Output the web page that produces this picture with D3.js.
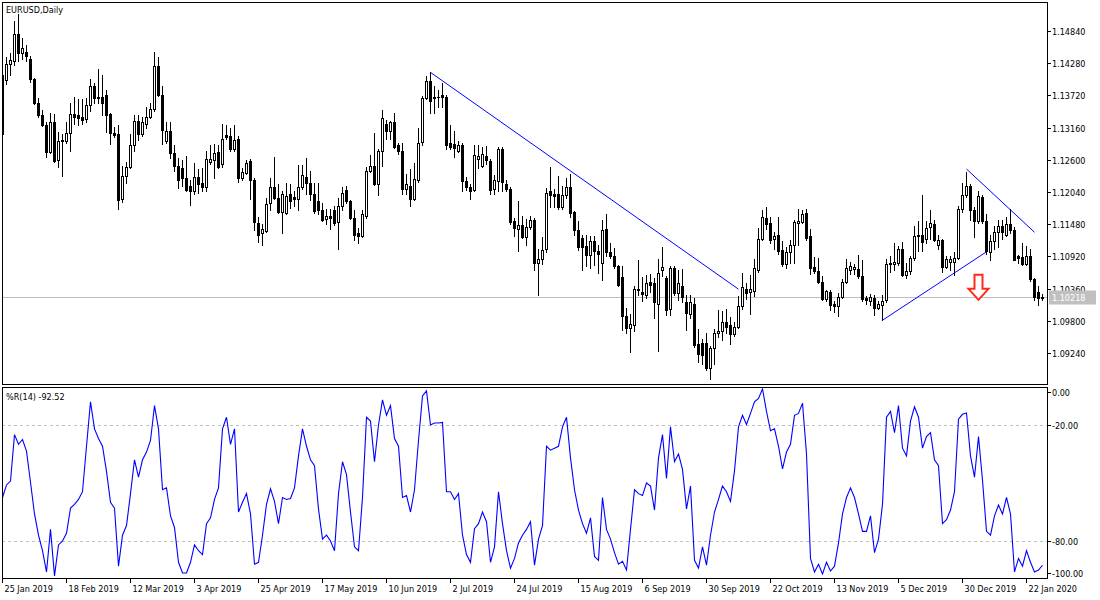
<!DOCTYPE html>
<html><head><meta charset="utf-8">
<script src="https://cdn.jsdelivr.net/npm/d3@7"></script>
<style>
html,body{margin:0;padding:0;background:#fff;}
svg{display:block;}
text{font-family:"DejaVu Sans Condensed","Liberation Sans",sans-serif;font-size:9px;fill:#000;}
</style></head><body>
<svg id="c" width="1100" height="600"></svg>
<script>
const opens=[1.1305,1.1399,1.1426,1.1431,1.1478,1.1445,1.1448,1.1435,1.1401,1.1359,1.1338,1.1320,1.1274,1.1325,1.1260,1.1295,1.1292,1.1307,1.1340,1.1338,1.1335,1.1331,1.1355,1.1388,1.1368,1.1370,1.1373,1.1340,1.1307,1.1305,1.1192,1.1232,1.1247,1.1286,1.1328,1.1305,1.1322,1.1335,1.1348,1.1423,1.1373,1.1292,1.1310,1.1272,1.1250,1.1245,1.1228,1.1215,1.1206,1.1230,1.1220,1.1212,1.1257,1.1260,1.1273,1.1252,1.1304,1.1302,1.1279,1.1297,1.1228,1.1237,1.1258,1.1225,1.1150,1.1132,1.1137,1.1185,1.1213,1.1193,1.1170,1.1168,1.1200,1.1195,1.1192,1.1212,1.1230,1.1220,1.1201,1.1188,1.1172,1.1157,1.1162,1.1172,1.1151,1.1180,1.1207,1.1189,1.1158,1.1132,1.1128,1.1163,1.1240,1.1250,1.1218,1.1275,1.1322,1.1310,1.1325,1.1285,1.1275,1.1210,1.1215,1.1192,1.1225,1.1291,1.1367,1.1397,1.1370,1.1370,1.1372,1.1370,1.1290,1.1287,1.1276,1.1286,1.1224,1.1213,1.1207,1.1262,1.1250,1.1266,1.1258,1.1209,1.1223,1.1278,1.1218,1.1210,1.1154,1.1140,1.1146,1.1126,1.1144,1.1155,1.1080,1.1087,1.1105,1.1205,1.1200,1.1200,1.1178,1.1198,1.1213,1.1170,1.1138,1.1124,1.1110,1.1095,1.1118,1.1102,1.1080,1.1140,1.1100,1.1092,1.1076,1.1056,1.0988,1.0968,1.0972,1.1033,1.1030,1.1025,1.1048,1.1045,1.1010,1.1068,1.1055,1.1000,1.1071,1.1028,1.1040,1.1012,1.0991,1.1010,1.0940,1.0942,1.0942,1.0898,1.0932,1.0958,1.0963,1.0978,1.0972,1.0957,1.0970,1.1005,1.1035,1.1030,1.1032,1.1069,1.1123,1.1158,1.1150,1.1122,1.1130,1.1104,1.1078,1.1100,1.1112,1.1150,1.1152,1.1168,1.1128,1.1073,1.1066,1.1048,1.1018,1.1030,1.1010,1.1006,1.1022,1.1048,1.1068,1.1070,1.1070,1.1058,1.1020,1.1014,1.1020,1.1002,1.1008,1.1016,1.1078,1.1079,1.1080,1.1105,1.1060,1.1066,1.1090,1.1128,1.1130,1.1122,1.1143,1.1148,1.1112,1.1120,1.1073,1.1083,1.1082,1.1090,1.1175,1.1198,1.1215,1.1173,1.1153,1.1195,1.1153,1.1100,1.1118,1.1135,1.1145,1.1130,1.1148,1.1138,1.1093,1.1091,1.1079,1.1093,1.1053,1.1030,1.1020];
const highs=[1.1418,1.1439,1.1445,1.1501,1.1513,1.1471,1.1460,1.1441,1.1403,1.1368,1.1346,1.1326,1.1341,1.1340,1.1308,1.1305,1.1325,1.1358,1.1370,1.1365,1.1366,1.1368,1.1401,1.1394,1.1418,1.1408,1.1381,1.1342,1.1317,1.1321,1.1250,1.1257,1.1305,1.1338,1.1338,1.1335,1.1352,1.1359,1.1448,1.1438,1.1388,1.1325,1.1326,1.1286,1.1263,1.1260,1.1266,1.1225,1.1255,1.1244,1.1245,1.1275,1.1286,1.1287,1.1286,1.1323,1.1321,1.1316,1.1321,1.1302,1.1245,1.1260,1.1261,1.1229,1.1160,1.1148,1.1193,1.1228,1.1265,1.1218,1.1205,1.1219,1.1218,1.1205,1.1251,1.1251,1.1263,1.1240,1.1220,1.1220,1.1185,1.1175,1.1175,1.1180,1.1193,1.1213,1.1214,1.1190,1.1172,1.1142,1.1172,1.1248,1.1268,1.1306,1.1278,1.1346,1.1330,1.1328,1.1341,1.1290,1.1290,1.1235,1.1244,1.1254,1.1315,1.1371,1.1405,1.1412,1.1388,1.1381,1.1394,1.1372,1.1321,1.1310,1.1293,1.1290,1.1230,1.1218,1.1286,1.1286,1.1283,1.1284,1.1262,1.1233,1.1282,1.1282,1.1225,1.1213,1.1158,1.1188,1.1162,1.1157,1.1162,1.1158,1.1105,1.1125,1.1211,1.1248,1.1210,1.1232,1.1214,1.1229,1.1235,1.1171,1.1154,1.1130,1.1130,1.1128,1.1128,1.1112,1.1155,1.1165,1.1115,1.1107,1.1077,1.1076,1.1002,1.0992,1.1040,1.1085,1.1057,1.1059,1.1062,1.1055,1.1087,1.1108,1.1058,1.1075,1.1075,1.1068,1.1070,1.1025,1.1025,1.1020,1.0965,1.0948,1.0958,1.0936,1.0965,1.0998,1.0997,1.1000,1.0987,1.0978,1.1024,1.1063,1.1045,1.1060,1.1088,1.1141,1.1172,1.1178,1.1160,1.1135,1.1161,1.1118,1.1108,1.1120,1.1155,1.1175,1.1173,1.1175,1.1140,1.1091,1.1090,1.1058,1.1034,1.1034,1.1015,1.1028,1.1052,1.1088,1.1083,1.1078,1.1095,1.1086,1.1024,1.1026,1.1025,1.1015,1.1025,1.1088,1.1092,1.1115,1.1110,1.1117,1.1080,1.1093,1.1145,1.1153,1.1199,1.1153,1.1173,1.1156,1.1130,1.1122,1.1093,1.1093,1.1100,1.1180,1.1220,1.1239,1.1218,1.1178,1.1206,1.1198,1.1165,1.1130,1.1145,1.1155,1.1155,1.1160,1.1175,1.1144,1.1095,1.1115,1.1110,1.1105,1.1055,1.1040,1.1026];
const lows=[1.1290,1.1391,1.1408,1.1425,1.1431,1.1435,1.1431,1.1396,1.1357,1.1335,1.1318,1.1265,1.1272,1.1257,1.1248,1.1232,1.1290,1.1275,1.1323,1.1320,1.1323,1.1325,1.1345,1.1358,1.1358,1.1338,1.1308,1.1288,1.1300,1.1175,1.1186,1.1220,1.1245,1.1275,1.1295,1.1302,1.1315,1.1332,1.1345,1.1371,1.1288,1.1290,1.1263,1.1241,1.1211,1.1215,1.1205,1.1181,1.1200,1.1202,1.1205,1.1205,1.1252,1.1228,1.1245,1.1248,1.1296,1.1276,1.1276,1.1222,1.1225,1.1235,1.1192,1.1138,1.1117,1.1112,1.1134,1.1173,1.1192,1.1168,1.1133,1.1165,1.1176,1.1180,1.1173,1.1210,1.1201,1.1190,1.1168,1.1165,1.1153,1.1148,1.1140,1.1147,1.1105,1.1172,1.1185,1.1157,1.1121,1.1115,1.1125,1.1158,1.1238,1.1217,1.1198,1.1250,1.1297,1.1297,1.1280,1.1270,1.1201,1.1201,1.1180,1.1190,1.1221,1.1285,1.1366,1.1341,1.1341,1.1352,1.1352,1.1278,1.1278,1.1265,1.1273,1.1206,1.1207,1.1192,1.1205,1.1245,1.1247,1.1252,1.1200,1.1200,1.1205,1.1206,1.1205,1.1148,1.1128,1.1101,1.1124,1.1112,1.1140,1.1068,1.1025,1.1078,1.1100,1.1178,1.1178,1.1175,1.1175,1.1194,1.1160,1.1130,1.1104,1.1068,1.1075,1.1072,1.1077,1.1063,1.1051,1.1093,1.1090,1.1072,1.1041,1.0964,1.0959,1.0925,1.0962,1.1025,1.1015,1.1020,1.1030,1.0985,1.0927,1.1058,1.0990,1.0990,1.1025,1.1017,1.1013,1.0964,1.0985,1.0935,1.0908,1.0905,1.0895,1.0878,1.0905,1.0952,1.0946,1.0959,1.0940,1.0953,1.0968,1.1000,1.1018,1.0992,1.1023,1.1065,1.1120,1.1140,1.1115,1.1105,1.1097,1.1076,1.1072,1.1080,1.1080,1.1112,1.1150,1.1120,1.1062,1.1064,1.1046,1.1016,1.1015,1.0998,1.0995,1.0988,1.1019,1.1045,1.1062,1.1061,1.1055,1.1015,1.1010,1.1008,1.0990,1.1000,1.0981,1.1012,1.1065,1.1068,1.1077,1.1058,1.1055,1.1062,1.1085,1.1101,1.1101,1.1115,1.1123,1.1118,1.1105,1.1065,1.1072,1.1068,1.1060,1.1088,1.1170,1.1195,1.1155,1.1125,1.1150,1.1150,1.1096,1.1085,1.1105,1.1108,1.1122,1.1127,1.1133,1.1085,1.1080,1.1077,1.1077,1.1050,1.1017,1.1008,1.1017];
const closes=[1.1407,1.1426,1.1433,1.1478,1.1445,1.1454,1.1440,1.1401,1.1359,1.1338,1.1321,1.1274,1.1325,1.1258,1.1293,1.1292,1.1307,1.1339,1.1335,1.1333,1.1330,1.1355,1.1388,1.1368,1.1370,1.1359,1.1338,1.1306,1.1304,1.1190,1.1232,1.1248,1.1286,1.1328,1.1305,1.1325,1.1335,1.1348,1.1423,1.1373,1.1311,1.1310,1.1272,1.1250,1.1225,1.1228,1.1208,1.1205,1.1230,1.1218,1.1212,1.1261,1.1262,1.1272,1.1248,1.1297,1.1300,1.1279,1.1295,1.1228,1.1238,1.1255,1.1225,1.1152,1.1130,1.1140,1.1183,1.1213,1.1193,1.1170,1.1201,1.1197,1.1188,1.1192,1.1212,1.1233,1.1220,1.1201,1.1171,1.1172,1.1155,1.1162,1.1158,1.1150,1.1180,1.1203,1.1188,1.1158,1.1130,1.1127,1.1166,1.1240,1.1250,1.1218,1.1275,1.1333,1.1310,1.1325,1.1283,1.1276,1.1210,1.1218,1.1192,1.1226,1.1290,1.1368,1.1397,1.1363,1.1368,1.1370,1.1370,1.1285,1.1282,1.1281,1.1285,1.1223,1.1212,1.1205,1.1268,1.1266,1.1270,1.1260,1.1208,1.1225,1.1278,1.1221,1.1210,1.1152,1.1142,1.1147,1.1126,1.1144,1.1155,1.1080,1.1088,1.1103,1.1203,1.1199,1.1197,1.1178,1.1198,1.1213,1.1168,1.1138,1.1108,1.1108,1.1095,1.1118,1.1102,1.1097,1.1138,1.1100,1.1092,1.1075,1.1042,1.0988,1.0968,1.0975,1.1035,1.1035,1.1027,1.1045,1.1043,1.1012,1.1063,1.1073,1.0999,1.1071,1.1028,1.1045,1.1021,1.0993,1.1012,1.0938,1.0922,1.0920,1.0898,1.0932,1.0958,1.0963,1.0978,1.0970,1.0957,1.0970,1.1005,1.1038,1.1028,1.1035,1.1071,1.1123,1.1160,1.1148,1.1121,1.1128,1.1101,1.1078,1.1100,1.1112,1.1152,1.1153,1.1165,1.1124,1.1072,1.1066,1.1048,1.1018,1.1031,1.1008,1.1006,1.1022,1.1048,1.1071,1.1075,1.1073,1.1058,1.1018,1.1016,1.1021,1.1002,1.1010,1.1015,1.1078,1.1080,1.1082,1.1105,1.1060,1.1067,1.1090,1.1128,1.1129,1.1117,1.1141,1.1150,1.1121,1.1120,1.1073,1.1088,1.1088,1.1090,1.1175,1.1198,1.1215,1.1173,1.1153,1.1197,1.1153,1.1101,1.1118,1.1135,1.1145,1.1135,1.1148,1.1138,1.1086,1.1090,1.1079,1.1093,1.1053,1.1022,1.1019,1.10218];
const wpr=[-57.5,-51,-49,-25,-30,-27.5,-33.5,-49.6,-66,-77,-85,-96,-74,-98,-82,-80,-76,-63,-61,-58.5,-54.5,-31,
-8,-22,-27,-31,-44,-60,-63,-93,-77,-72,-55.5,-38,-47,-38,-34,-28,-10,-22,-53.5,-52.5,-67,
-73,-91,-96.5,-96.5,-91,-82,-85,-87,-71,-68,-58.5,-52.5,-22,-16,-30,-22,-65,-60,-55.5,-66,-92,
-91,-77,-61,-53,-59.5,-71,-57.5,-58.5,-58,-52.5,-36,-22,-31,-38,-41,-63.5,-79,-77,-80,-85,-55.5,-39,
-45.7,-65,-83,-85,-57.5,-16,-18,-39,-20,-7,-15,-10,-27,-31,-57.5,-56.5,-65,-53.5,-28,-5,-2.4,
-20,-19,-19,-18.7,-54.5,-54.5,-58.5,-55.5,-77,-87,-91,-73.6,-71,-65,-70,-91,-83,-54.5,-71,-85,-94,
-89,-81,-77,-74,-70,-92.5,-79,-72,-31,-33,-32,-31,-21,-16,-37,-53.5,-64,-71,-76,-68,-88,-90,
-57.5,-74,-79,-86,-92,-90.5,-95,-74,-53.5,-55.5,-56.5,-50,-51.6,-64,-37,-25,-47.6,-21,-39,-35,-43,-63.4,
-51.6,-90,-94,-83,-92.5,-77,-65,-58.5,-51.6,-54.5,-59.5,-43.7,-21,-15,-19.7,-14,-8,-6.3,-1.4,-13,-23,
-22,-31,-42.7,-34,-30,-15,-14,-8.7,-35,-89,-96,-92,-97,-91,-95.5,-93,-81,-66,-57.5,-52.5,-57.5,-66,
-75,-75,-67,-86,-79,-61,-16,-13,-24,-10,-32,-36,-18,-10.6,-16,-32,-26,-24,-38,-41,-71,
-69,-64,-54.5,-17,-14.5,-13.8,-36,-47,-26,-48.6,-75,-77,-67,-61.4,-66,-57.5,-66,-96,-89,-93,-85,-91,-96,-95,-92.52];
const dateLabels=["25 Jan 2019","18 Feb 2019","12 Mar 2019","3 Apr 2019","25 Apr 2019","17 May 2019","10 Jun 2019","2 Jul 2019","24 Jul 2019","15 Aug 2019","6 Sep 2019","30 Sep 2019","22 Oct 2019","13 Nov 2019","5 Dec 2019","30 Dec 2019","22 Jan 2020"];
const dateLabelBars=[0,16,32,48,64,80,96,112,128,144,160,176,192,208,224,240,256];
const priceTicks=[1.1484,1.1428,1.1372,1.1316,1.1260,1.1204,1.1148,1.1092,1.1036,1.0980,1.0924];
const wprTickValues=[0,-20,-80,-100];
const wprTickLabels=["0.00","-20.00","-80.00","-100.00"];
const wprLevels=[-20,-80];
const trendLines=[[[107,1.1412],[184,1.1035]],[[220,1.0981],[246,1.1100]],[[241,1.1244],[258,1.1134]]];
const lastPrice=1.10218;
const arrowBar=244, arrowPrice=1.1060;
const symbolTitle="EURUSD,Daily";
const wprTitle="%R(14) -92.52";

const svg=d3.select("#c");
const L=2,R=1047,T=2,MB=384,IT=387,IB=578;
const x=d3.scaleLinear().domain([0,260]).range([2,1042]);
const y=d3.scaleLinear().domain([1.0924,1.1484]).range([353,31]);
const yW=d3.scaleLinear().domain([-100,0]).range([579.7,386.3]);

const defs=svg.append("defs");
defs.append("clipPath").attr("id","cm").append("rect").attr("x",L+1).attr("y",T+1).attr("width",R-L-1).attr("height",MB-T-1);
defs.append("clipPath").attr("id","ci").append("rect").attr("x",L+1).attr("y",IT+1).attr("width",R-L-1).attr("height",IB-IT-1);

const gm=svg.append("g").attr("clip-path","url(#cm)").attr("shape-rendering","crispEdges");
// last price line
const yl=Math.round(y(lastPrice))+0.5;
gm.append("line").attr("x1",L).attr("x2",R).attr("y1",yl).attr("y2",yl).attr("stroke","#c0c0c0");

// candles
const idx=d3.range(closes.length);
idx.forEach(i=>{
  const X=Math.round(x(i));
  const yh=Math.round(y(highs[i])), ylo=Math.round(y(lows[i]));
  const yo=Math.round(y(opens[i])), yc=Math.round(y(closes[i]));
  gm.append("rect").attr("x",X).attr("y",yh).attr("width",1).attr("height",Math.max(1,ylo-yh+1)).attr("fill","#000");
  const top=Math.min(yo,yc), bot=Math.max(yo,yc);
  if(bot-top<1){
    gm.append("rect").attr("x",X-1).attr("y",top).attr("width",3).attr("height",1).attr("fill","#000");
  } else if(closes[i]>=opens[i]){
    gm.append("rect").attr("x",X-0.5).attr("y",top+0.5).attr("width",2).attr("height",bot-top).attr("fill","#fff").attr("stroke","#000").attr("stroke-width",1);
  } else {
    gm.append("rect").attr("x",X-1).attr("y",top).attr("width",3).attr("height",bot-top+1).attr("fill","#000");
  }
});

// trend lines
const gt=svg.append("g").attr("clip-path","url(#cm)");
trendLines.forEach(tl=>{
  gt.append("line").attr("x1",x(tl[0][0])+0.5).attr("y1",y(tl[0][1])).attr("x2",x(tl[1][0])+0.5).attr("y2",y(tl[1][1])).attr("stroke","#0000ff").attr("stroke-width",1);
});

// arrow
const ax=x(arrowBar)+0.5, ay=y(arrowPrice);
const ap=[[ax-4,ay],[ax+4,ay],[ax+4,ay+14],[ax+10,ay+14],[ax,ay+25],[ax-10,ay+14],[ax-4,ay+14]];
gt.append("path").attr("d",d3.line()(ap)+"Z").attr("fill","#fff").attr("stroke","#ff2a1a").attr("stroke-width",2).attr("stroke-linejoin","miter");

// indicator
const gi=svg.append("g").attr("clip-path","url(#ci)");
wprLevels.forEach(v=>{
  const yy=Math.round(yW(v))+0.5;
  gi.append("line").attr("x1",L).attr("x2",R).attr("y1",yy).attr("y2",yy).attr("stroke","#c0c0c0").attr("stroke-dasharray","3,3").attr("shape-rendering","crispEdges");
});
gi.append("path").datum(wpr).attr("fill","none").attr("stroke","#0000ff").attr("stroke-width",1.1)
  .attr("d",d3.line().x((d,i)=>x(i)+0.5).y(d=>yW(d)));

// frames
const gf=svg.append("g").attr("shape-rendering","crispEdges").attr("fill","none").attr("stroke","#000");
gf.append("rect").attr("x",L+0.5).attr("y",T+0.5).attr("width",R-L).attr("height",MB-T);
gf.append("rect").attr("x",L+0.5).attr("y",IT+0.5).attr("width",R-L).attr("height",IB-IT);

// right price axis
const ga=svg.append("g");
priceTicks.forEach(p=>{
  const yy=Math.round(y(p))+0.5;
  ga.append("line").attr("x1",R).attr("x2",R+4).attr("y1",yy).attr("y2",yy).attr("stroke","#000").attr("shape-rendering","crispEdges");
  ga.append("text").attr("x",R+5).attr("y",yy).attr("dy","0.35em").text(d3.format(".5f")(p));
});
// last price label
ga.append("rect").attr("x",R+2).attr("y",yl-7).attr("width",47).attr("height",14).attr("fill","#c0c0c0");
ga.append("text").attr("x",R+5).attr("y",yl).attr("dy","0.35em").style("fill","#fff").text(d3.format(".5f")(lastPrice));

// indicator axis
const wprLabelY=[392,425,541,573];
wprTickValues.forEach((v,k)=>{
  const yy=wprLabelY[k]+0.5;
  ga.append("line").attr("x1",R).attr("x2",R+4).attr("y1",yy).attr("y2",yy).attr("stroke","#000").attr("shape-rendering","crispEdges");
  ga.append("text").attr("x",R+5).attr("y",yy).attr("dy","0.35em").text(wprTickLabels[k]);
});

// date axis
dateLabels.forEach((s,k)=>{
  const X=Math.round(x(dateLabelBars[k]))+0.5;
  ga.append("line").attr("x1",X).attr("x2",X).attr("y1",IB).attr("y2",IB+5).attr("stroke","#000").attr("shape-rendering","crispEdges");
  ga.append("text").attr("x",X+2).attr("y",592).text(s);
});

// titles
svg.append("text").attr("x",6).attr("y",13).text(symbolTitle);
svg.append("text").attr("x",6).attr("y",400).text(wprTitle);
</script></body></html>
